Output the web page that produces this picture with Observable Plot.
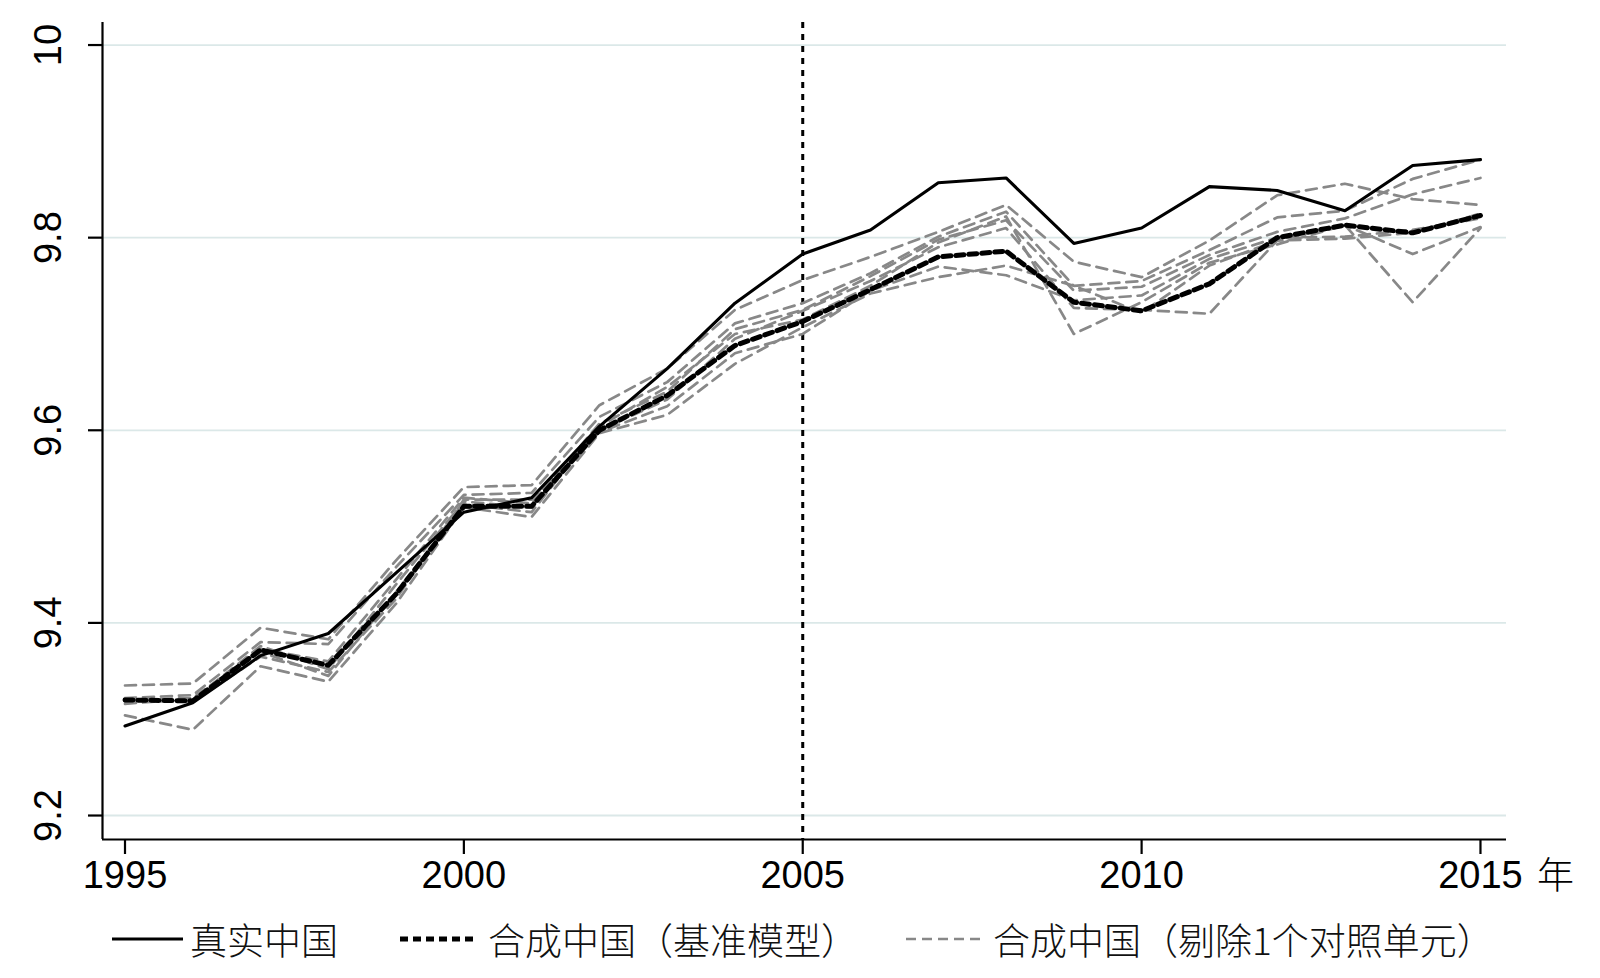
<!DOCTYPE html>
<html>
<head>
<meta charset="utf-8">
<script src="https://cdn.jsdelivr.net/npm/d3@7"></script>
<script src="https://cdn.jsdelivr.net/npm/@observablehq/plot@0.6"></script>
<style>
  html, body { margin: 0; padding: 0; background: #fff; }
  #chart { width: 1600px; height: 900px; }
  #legend { position: relative; width: 1600px; height: 78px; }
  .item { position: absolute; top: 0; height: 78px; display: flex; align-items: center; }
  .lbl { position: absolute; top: 0; height: 78px; line-height: 78px;
         font-family: "Noto Sans CJK SC", sans-serif; font-weight: 300; font-size: 37px; color: #111; white-space: nowrap; }
</style>
</head>
<body>
<div id="chart"></div>
<div id="legend"></div>
<script>
const years = [1995, 1996, 1997, 1998, 1999, 2000, 2001, 2002, 2003, 2004, 2005,
               2006, 2007, 2008, 2009, 2010, 2011, 2012, 2013, 2014, 2015];
const realChina = [9.293, 9.317, 9.366, 9.389, 9.452, 9.515, 9.530, 9.604, 9.664, 9.732, 9.783,
                   9.808, 9.857, 9.862, 9.794, 9.810, 9.853, 9.849, 9.828, 9.875, 9.881];
const synthBase = [9.320, 9.319, 9.372, 9.356, 9.430, 9.521, 9.521, 9.600, 9.636, 9.688, 9.713,
                   9.746, 9.780, 9.786, 9.733, 9.724, 9.752, 9.800, 9.813, 9.805, 9.823];
const loo1 = [9.335, 9.337, 9.395, 9.383, 9.465, 9.541, 9.543, 9.626, 9.664, 9.725, 9.756,
              9.780, 9.806, 9.834, 9.775, 9.759, 9.797, 9.844, 9.856, 9.840, 9.834];
const loo2 = [9.322, 9.325, 9.380, 9.378, 9.458, 9.533, 9.535, 9.614, 9.650, 9.711, 9.732,
              9.763, 9.801, 9.827, 9.750, 9.755, 9.787, 9.821, 9.828, 9.861, 9.881];
const loo3 = [9.320, 9.322, 9.373, 9.360, 9.445, 9.530, 9.524, 9.607, 9.640, 9.705, 9.725,
              9.760, 9.798, 9.818, 9.745, 9.749, 9.782, 9.806, 9.820, 9.845, 9.862];
const loo4 = [9.318, 9.320, 9.376, 9.352, 9.440, 9.526, 9.520, 9.600, 9.632, 9.695, 9.724,
              9.755, 9.790, 9.810, 9.727, 9.725, 9.721, 9.797, 9.813, 9.783, 9.811];
const loo5 = [9.316, 9.321, 9.370, 9.345, 9.432, 9.523, 9.515, 9.604, 9.645, 9.700, 9.715,
              9.750, 9.795, 9.822, 9.700, 9.733, 9.774, 9.793, 9.813, 9.733, 9.810];
const loo6 = [9.304, 9.289, 9.355, 9.339, 9.420, 9.520, 9.510, 9.597, 9.616, 9.669, 9.707,
              9.742, 9.759, 9.771, 9.750, 9.722, 9.771, 9.797, 9.799, 9.805, 9.825];
const loo7 = [9.320, 9.318, 9.365, 9.349, 9.425, 9.528, 9.528, 9.598, 9.625, 9.680, 9.700,
              9.745, 9.770, 9.761, 9.735, 9.740, 9.778, 9.800, 9.801, 9.808, 9.820];
const looSeries = [loo1, loo2, loo3, loo4, loo5, loo6, loo7];

const yTicks = [9.2, 9.4, 9.6, 9.8, 10];
const xTicks = [1995, 2000, 2005, 2010, 2015];
const treatYear = 2005;
const xUnit = "年";
const legendLabels = ["真实中国", "合成中国（基准模型）", "合成中国（剔除1个对照单元）"];

const xDomain = [1994.668, 2015.384];
const yDomain = [9.1751, 10.0234];

const toRows = (vals, name) => years.map((yr, i) => ({year: yr, value: vals[i], series: name}));
const grayRows = looSeries.flatMap((s, k) => toRows(s, "loo" + (k + 1)));
const baseRows = toRows(synthBase, "base");
const realRows = toRows(realChina, "real");

const chart = Plot.plot({
  width: 1600,
  height: 900,
  marginLeft: 102,
  marginRight: 94,
  marginTop: 22,
  marginBottom: 61,
  x: {domain: xDomain, label: null},
  y: {domain: yDomain, label: null},
  style: {fontFamily: "'Liberation Sans', Arial, sans-serif", background: "white", color: "black"},
  marks: [
    Plot.ruleY(yTicks, {stroke: "#dbe8e8", strokeWidth: 1.8}),
    Plot.ruleX([treatYear], {stroke: "black", strokeWidth: 3, strokeDasharray: "6,6"}),
    Plot.lineY(grayRows, {x: "year", y: "value", z: "series", stroke: "#888888", strokeWidth: 2.7, strokeDasharray: "11,7"}),
    Plot.lineY(baseRows, {x: "year", y: "value", stroke: "black", strokeWidth: 5, strokeDasharray: "8,5"}),
    Plot.lineY(realRows, {x: "year", y: "value", stroke: "black", strokeWidth: 3.1}),
    Plot.ruleX([xDomain[0]], {stroke: "black", strokeWidth: 2.2}),
    Plot.ruleY([yDomain[0]], {stroke: "black", strokeWidth: 2.2}),
    Plot.axisY({ticks: yTicks, tickSize: 14, tickFormat: () => "", strokeWidth: 2.2, label: null}),
    Plot.axisX({ticks: xTicks, tickSize: 15, tickPadding: 7, tickFormat: d => String(d), fontSize: 38, strokeWidth: 2.2, label: null}),
    Plot.text(yTicks, {y: d => d, text: d => String(d), frameAnchor: "left", dx: -54, rotate: -90,
                       textAnchor: "middle", lineAnchor: "middle", fontSize: 38}),
    Plot.text([xUnit], {text: d => d, frameAnchor: "bottom-right", dx: 49, dy: 38, fontSize: 37,
                        textAnchor: "middle", lineAnchor: "middle", fontWeight: 300,
                        fontFamily: "'Noto Sans CJK SC', sans-serif"})
  ]
});
document.getElementById("chart").appendChild(chart);

// Legend
const legend = d3.select("#legend");
const items = [
  {left: 112, w: 71, stroke: "black", sw: 3.1, dash: null, textLeft: 190},
  {left: 400, w: 76, stroke: "black", sw: 5, dash: "8,5", textLeft: 488},
  {left: 906, w: 79, stroke: "#888888", sw: 2.4, dash: "10,6", textLeft: 993}
];
items.forEach((it, i) => {
  const sv = legend.append("div").attr("class", "item").style("left", it.left + "px")
    .append("svg").attr("width", it.w).attr("height", 10);
  sv.append("line").attr("x1", 0).attr("x2", it.w).attr("y1", 5).attr("y2", 5)
    .attr("stroke", it.stroke).attr("stroke-width", it.sw)
    .attr("stroke-dasharray", it.dash);
  legend.append("div").attr("class", "lbl").style("left", it.textLeft + "px").text(legendLabels[i]);
});
</script>
</body>
</html>
